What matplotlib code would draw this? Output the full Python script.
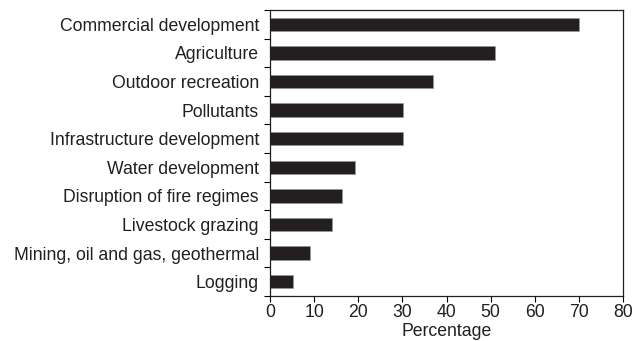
import numpy as np
from matplotlib import pyplot as plt

plt.rcParams['font.family'] = ['Liberation Sans', 'DejaVu Sans']

threats = ["Commercial development", "Agriculture", "Outdoor recreation",
           "Pollutants", "Infrastructure development", "Water development",
           "Disruption of fire regimes", "Livestock grazing",
           "Mining, oil and gas, geothermal", "Logging"]
percent = [70.1, 51.1, 37.0, 30.2, 30.2, 19.2, 16.3, 14.1, 9.1, 5.3]
x_ticks = [0, 10, 20, 30, 40, 50, 60, 70, 80]

fig = plt.figure(figsize=(6.32, 3.41), dpi=100)
ax = fig.add_axes([270 / 632, 45 / 341, 353 / 632, 286 / 341])

pos = np.arange(len(threats))
ax.barh(pos, percent, height=0.47, color="#231f20", edgecolor="#9a9a9a",
        linewidth=0.4)

ax.set_ylim(len(threats) - 0.5, -0.5)
ax.set_xlim(0, 80)

# labels centred on bars, tick marks between bars
ax.set_yticks(np.arange(-0.5, len(threats)), labels=[""] * (len(threats) + 1))
ax.set_yticks(pos, labels=threats, minor=True)
ax.tick_params(axis="y", which="major", direction="out", length=4, width=0.8)
ax.tick_params(axis="y", which="minor", length=0, labelsize=12.7, pad=8,
               labelcolor="#231f20")

ax.set_xticks(x_ticks)
ax.tick_params(axis="x", direction="out", length=4, width=0.8,
               labelsize=12.7, pad=2, labelcolor="#231f20")
ax.set_xlabel("Percentage", fontsize=12.7, labelpad=1.5, color="#231f20")

for s in ax.spines.values():
    s.set_linewidth(0.9)
    s.set_color("#231f20")

fig.savefig("out.png", dpi=100)
